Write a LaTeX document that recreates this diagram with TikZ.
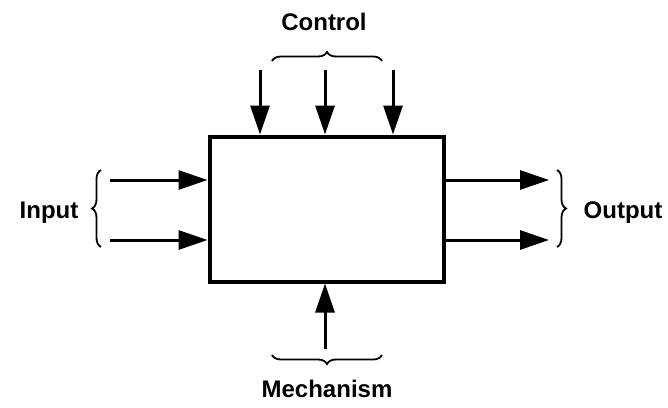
\documentclass[tikz,border=0pt]{standalone}
\usepackage{fontspec}
\setmainfont{Liberation Sans}
\usetikzlibrary{positioning, arrows.meta, decorations.pathreplacing}

\tikzset{
  funcbox/.style={draw, line width=4pt, minimum width=234pt, minimum height=145pt, inner sep=0pt},
  flow/.style={line width=3pt, -{Triangle[length=29pt, width=19pt]}},
  curly/.style={line width=1.8pt, decorate, decoration={brace, amplitude=9pt}},
  lbl/.style={font=\fontsize{24}{28}\selectfont\bfseries, inner sep=0pt}
}

\begin{document}
\begin{tikzpicture}[x=1pt, y=-1pt]
  \useasboundingbox (0,0) rectangle (668,407);

  % activity box
  \node[funcbox] (box) at (326.5,209) {};

  % control
  \coordinate (c1) at (260,70);
  \coordinate (c2) at (325,70);
  \coordinate (c3) at (393,70);
  \draw[flow] (c1) -- (c1 |- box.north);
  \draw[flow] (c2) -- (c2 |- box.north);
  \draw[flow] (c3) -- (c3 |- box.north);
  \coordinate (cb1) at (272,61);
  \coordinate (cb2) at (382,61);
  \draw[curly] (cb1) -- (cb2);
  \node[lbl] (ctl) at (324,22) {Control};

  % input
  \coordinate (i1) at (110,180);
  \coordinate (i2) at (110,240);
  \draw[flow] (i1) -- (i1 -| box.west);
  \draw[flow] (i2) -- (i2 -| box.west);
  \coordinate (ib1) at (101,247);
  \coordinate (ib2) at (101,170);
  \draw[curly] (ib1) -- (ib2);
  \node[lbl] (inp) at (49,213) {Input};

  % output
  \coordinate (o1) at (549,180);
  \coordinate (o2) at (549,240);
  \draw[flow] (o1 -| box.east) -- (o1);
  \draw[flow] (o2 -| box.east) -- (o2);
  \coordinate (ob1) at (557,170);
  \coordinate (ob2) at (557,247);
  \draw[curly] (ob1) -- (ob2);
  \node[lbl] (out) at (623,213) {Output};

  % mechanism
  \coordinate (m1) at (325,349);
  \draw[flow] (m1) -- (m1 |- box.south);
  \coordinate (mb1) at (382,355);
  \coordinate (mb2) at (272,355);
  \draw[curly] (mb1) -- (mb2);
  \node[lbl] (mech) at (327,389) {Mechanism};
\end{tikzpicture}
\end{document}
